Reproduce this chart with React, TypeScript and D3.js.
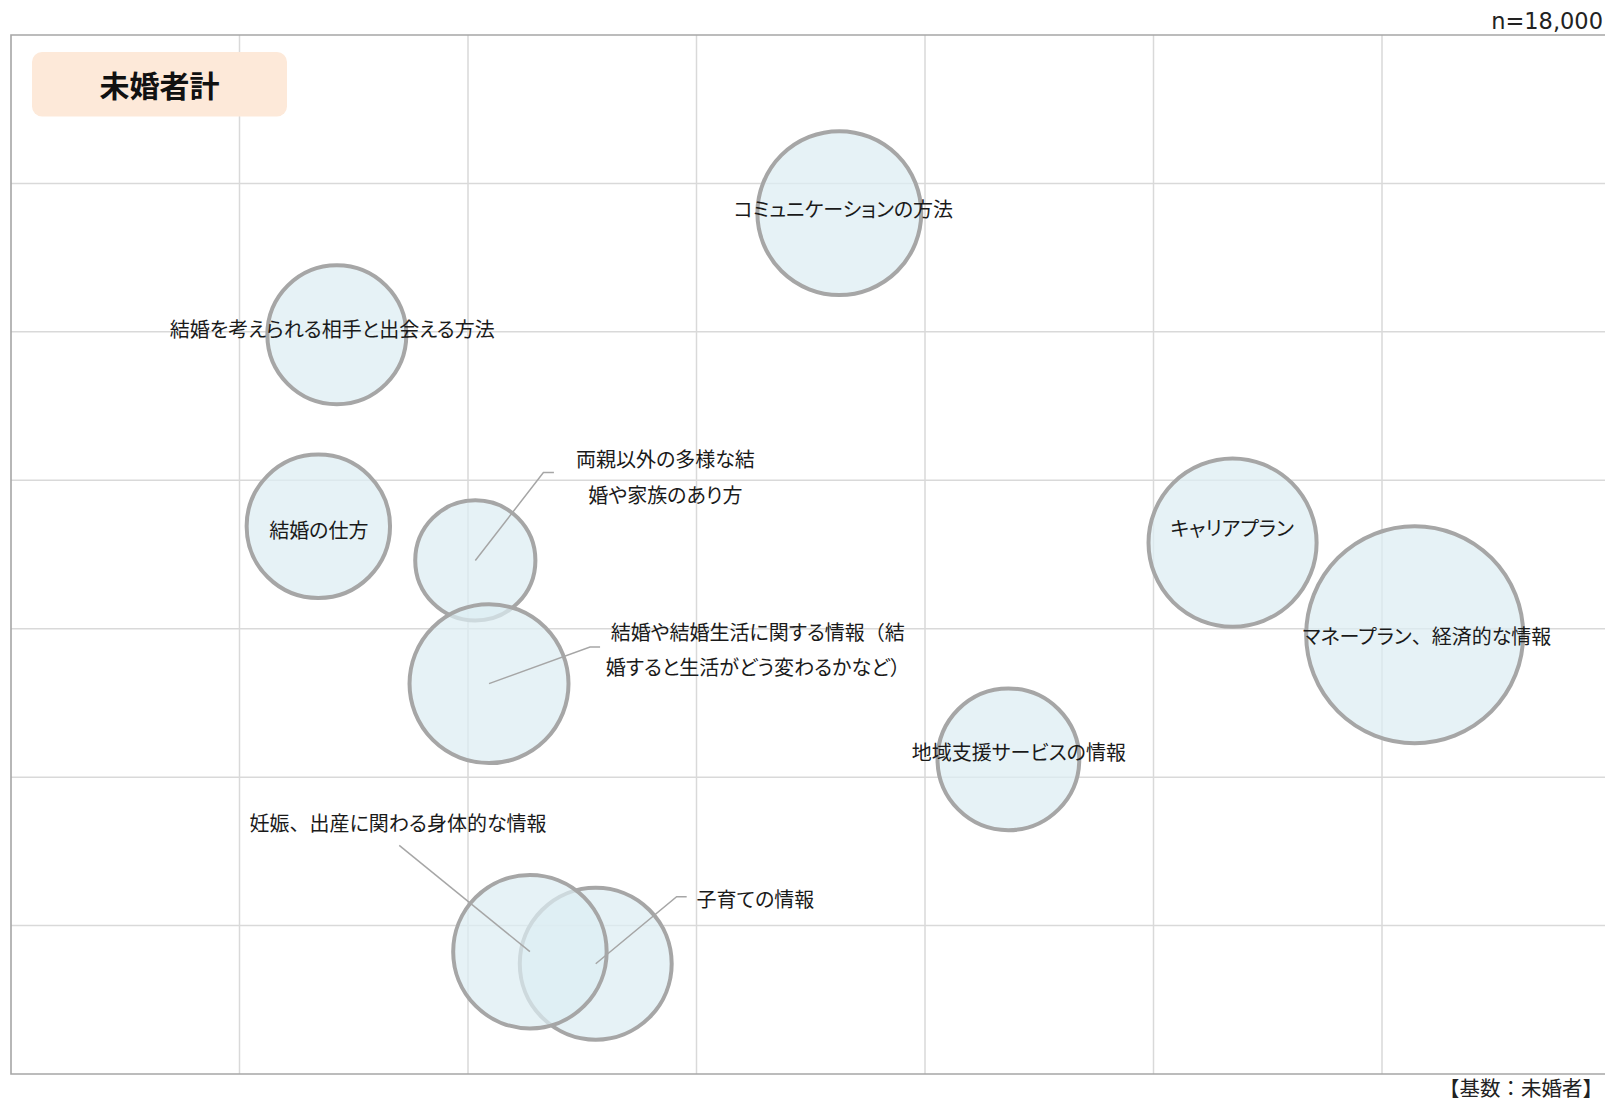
import React from 'react';
import * as d3 from 'd3';

const W = 1605;
const H = 1101;

// bubble data (x, y in chart units, size = bubble value)
const names = [
  'コミュニケーションの方法',
  '結婚を考えられる相手と出会える方法',
  '結婚の仕方',
  '両親以外の多様な結婚や家族のあり方',
  '結婚や結婚生活に関する情報（結婚すると生活がどう変わるかなど）',
  'キャリアプラン',
  'マネープラン、経済的な情報',
  '地域支援サービスの情報',
  '子育ての情報',
  '妊娠、出産に関わる身体的な情報',
];
const xValues = [3.625, 1.426, 1.345, 2.032, 2.092, 5.346, 6.143, 4.365, 2.559, 2.271];
const yValues = [5.80, 4.98, 3.69, 3.46, 2.63, 3.58, 2.96, 2.12, 0.743, 0.824];
const sizes = [17.1, 12.3, 13.1, 9.2, 16.1, 18.0, 30.0, 12.8, 14.7, 15.0];

// label text lines and anchor in chart units
const labelLines = [
  ['コミュニケーションの方法'],
  ['結婚を考えられる相手と出会える方法'],
  ['結婚の仕方'],
  ['両親以外の多様な結', '婚や家族のあり方'],
  ['結婚や結婚生活に関する情報（結', '婚すると生活がどう変わるかなど）'],
  ['キャリアプラン'],
  ['マネープラン、経済的な情報'],
  ['地域支援サービスの情報'],
  ['子育ての情報'],
  ['妊娠、出産に関わる身体的な情報'],
];
const labelX = [3.643, 1.406, 1.347, 2.864, 3.268, 5.344, 6.197, 4.411, 3.258, 1.694];
const labelY = [5.837, 5.023, 3.671, 4.030, 2.867, 3.685, 2.961, 2.175, 1.186, 1.700];
// leader lines: [elbowX, elbowY, endX, endY] or null
const leaders: (number[] | null)[] = [
  null, null, null,
  [2.330, 4.052, 2.376, 4.052],
  [2.534, 2.876, 2.578, 2.876],
  null, null, null,
  [2.913, 1.195, 2.957, 1.195],
  [1.699, 1.540, 1.699, 1.540],
];

const gridTicks = [1, 2, 3, 4, 5, 6];

const jp = '"Noto Sans CJK JP", "Noto Sans", sans-serif';

// split so wide punctuation keeps its full width
function segments(s: string) {
  return s.split(/([、（）])/).filter(p => p.length > 0);
}

export default function App() {
  const x = d3.scaleLinear().domain([0, 7]).range([11, 1610.5]);
  const y = d3.scaleLinear().domain([0, 7]).range([1074, 35]);
  const r = d3.scaleSqrt().domain([0, 30]).range([0, 108.5]);
  const lineH = 35.5;

  return (
    <svg width={W} height={H} style={{ position: 'absolute', left: 0, top: 0, display: 'block' }}>
      <rect x={0} y={0} width={W} height={H} fill="#fff" />
      {/* grid */}
      {gridTicks.map(t => (
        <line key={'gx' + t} x1={x(t)} x2={x(t)} y1={y(7)} y2={y(0)} stroke="#d9d9d9" strokeWidth={1.5} />
      ))}
      {gridTicks.map(t => (
        <line key={'gy' + t} x1={x(0)} x2={x(7)} y1={y(t)} y2={y(t)} stroke="#d9d9d9" strokeWidth={1.5} />
      ))}
      {/* frame */}
      <path
        d={`M${x(7)},${y(7)}H${x(0)}V${y(0)}H${x(7)}`}
        fill="none"
        stroke="#a6a6a6"
        strokeWidth={1.6}
      />
      {/* title box */}
      <rect x={32} y={52} width={255} height={64.5} rx={10} fill="#fde9d9" />
      <text x={159.5} y={84} textAnchor="middle" dominantBaseline="central"
        fontFamily={jp} fontWeight="bold" fontSize={30} fill="#111">未婚者計</text>

      {/* bubbles */}
      {names.map((n, i) => (
        <circle key={n} cx={x(xValues[i])} cy={y(yValues[i])} r={r(sizes[i])}
          fill="#dcedf3" fillOpacity={0.72} stroke="#a6a6a6" strokeWidth={4} />
      ))}

      {/* leaders */}
      {leaders.map((l, i) => l && (
        <polyline key={'l' + i}
          points={`${x(xValues[i])},${y(yValues[i])} ${x(l[0])},${y(l[1])} ${x(l[2])},${y(l[3])}`}
          fill="none" stroke="#a6a6a6" strokeWidth={1.5} />
      ))}

      {/* labels */}
      {labelLines.map((lines, i) => lines.map((s, j) => (
        <text key={'t' + i + '-' + j} x={x(labelX[i])}
          y={y(labelY[i]) + (j - (lines.length - 1) / 2) * lineH}
          textAnchor="middle" dominantBaseline="central"
          fontFamily={jp} fontSize={20} fill="#1a1a1a">
          {segments(s).map((p, k) => (
            <tspan key={k}
              style={{ fontFeatureSettings: /^[、（）]$/.test(p) ? 'normal' : '"palt"' }}>{p}</tspan>
          ))}
        </text>
      )))}

      <text x={1603} y={29} textAnchor="end" fontFamily='"DejaVu Sans", Verdana, sans-serif'
        fontSize={22.5} fill="#222">n=18,000</text>
      <text x={1603} y={1087} textAnchor="end" dominantBaseline="central" fontFamily={jp}
        fontSize={20.5} fill="#222">【基数：未婚者】</text>
    </svg>
  );
}
